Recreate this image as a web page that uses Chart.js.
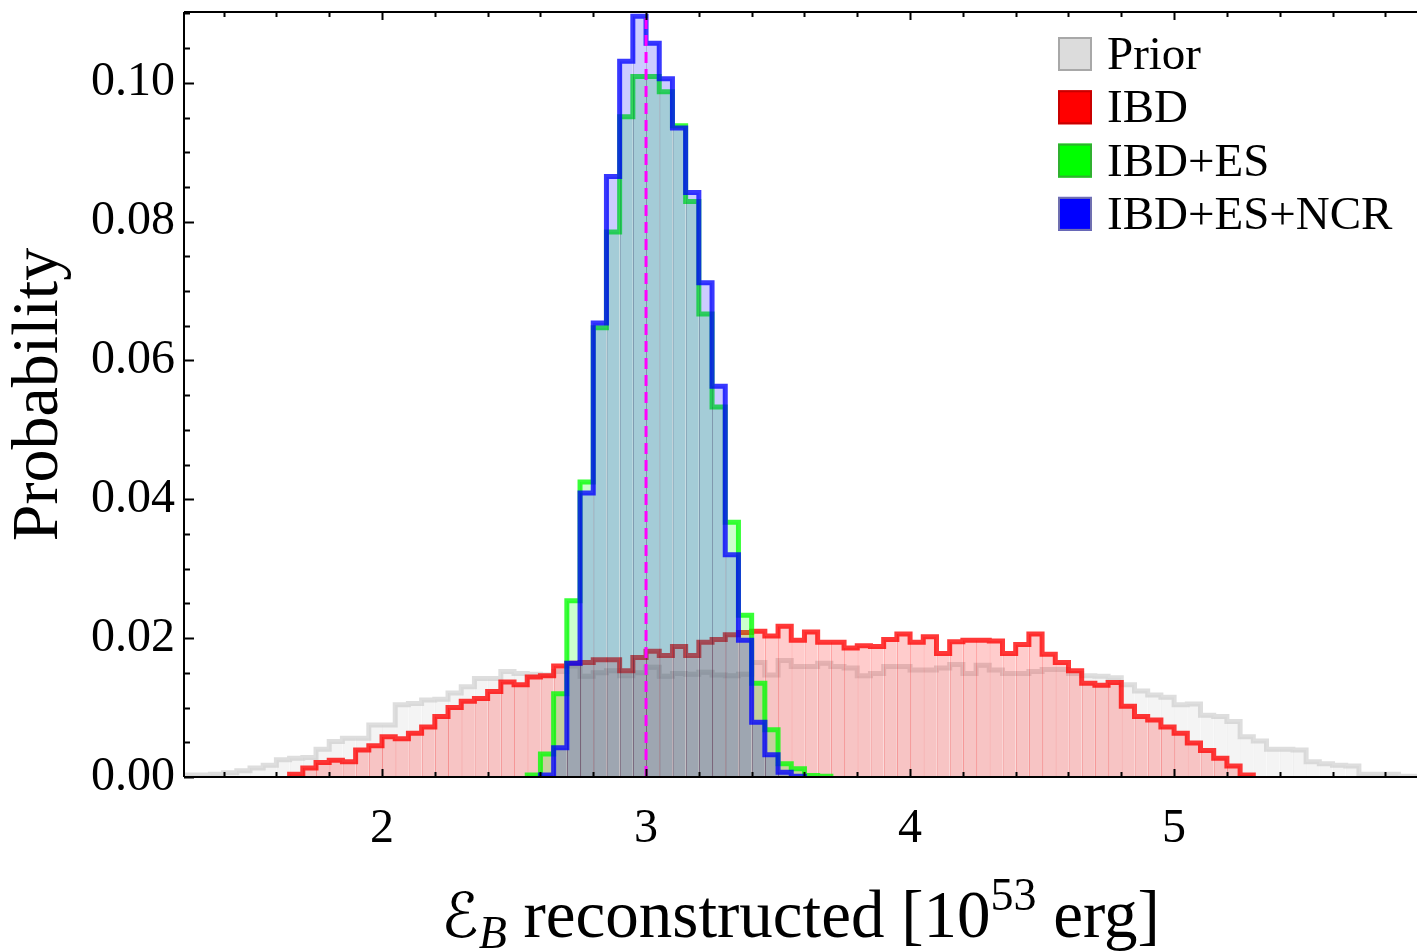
<!DOCTYPE html>
<html>
<head>
<meta charset="utf-8">
<script src="https://cdn.jsdelivr.net/npm/chart.js@4.4.1/dist/chart.umd.min.js"></script>
<style>
  body { margin: 0; background: #fff; }
  #wrap { width: 1417px; height: 951px; }
</style>
</head>
<body>
<div id="wrap"><canvas id="histcanvas"></canvas></div>
<script>
// bins are 0.05 wide, each series starts at its own left edge
var binWidth = 0.05;

var priorStart = 1.25;
var prior = [
  0.0003, 0.0003, 0.0004, 0.0006, 0.0009, 0.0013, 0.0017, 0.0025, 0.0027, 0.0028,
  0.0040, 0.0051, 0.0056, 0.0056, 0.0075, 0.0075, 0.0104, 0.0106, 0.0111, 0.0112,
  0.0121, 0.0130, 0.0142, 0.0142, 0.0152, 0.0149, 0.0148, 0.0147, 0.0152, 0.0160,
  0.0145, 0.0150, 0.0153, 0.0146, 0.0150, 0.0158, 0.0145, 0.0149, 0.0148, 0.0151,
  0.0147, 0.0146, 0.0148, 0.0165, 0.0147, 0.0168, 0.0159, 0.0159, 0.0164, 0.0159,
  0.0157, 0.0146, 0.0149, 0.0159, 0.0159, 0.0154, 0.0154, 0.0157, 0.0162, 0.0149,
  0.0161, 0.0154, 0.0149, 0.0149, 0.0152, 0.0155, 0.0155, 0.0149, 0.0146, 0.0145,
  0.0143, 0.0133, 0.0124, 0.0118, 0.0115, 0.0104, 0.0105, 0.0089, 0.0087, 0.0080,
  0.0058, 0.0052, 0.0040, 0.0040, 0.0039, 0.0022, 0.0019, 0.0017, 0.0016, 0.0004,
  0.0004, 0.0004, 0.0001, 0.0001
];

var ibdStart = 1.65;
var ibd = [
  0.0004, 0.0013, 0.0021, 0.0024, 0.0022, 0.0039, 0.0045, 0.0058, 0.0055, 0.0063,
  0.0072, 0.0087, 0.0100, 0.0109, 0.0113, 0.0123, 0.0137, 0.0133, 0.0144, 0.0146,
  0.0160, 0.0164, 0.0165, 0.0169, 0.0169, 0.0153, 0.0172, 0.0181, 0.0175, 0.0188,
  0.0175, 0.0194, 0.0198, 0.0205, 0.0208, 0.0210, 0.0203, 0.0217, 0.0197, 0.0209,
  0.0194, 0.0194, 0.0186, 0.0189, 0.0188, 0.0198, 0.0206, 0.0194, 0.0202, 0.0178,
  0.0195, 0.0197, 0.0197, 0.0196, 0.0178, 0.0191, 0.0206, 0.0177, 0.0165, 0.0153,
  0.0135, 0.0132, 0.0136, 0.0102, 0.0087, 0.0082, 0.0072, 0.0063, 0.0049, 0.0038,
  0.0027, 0.0016, 0.0003
];

var ibdEsStart = 2.55;
var ibdEs = [
  0.0003, 0.0033, 0.0120, 0.0254, 0.0425, 0.0647, 0.0785, 0.0951, 0.1009, 0.1009,
  0.0987, 0.0938, 0.0829, 0.0667, 0.0533, 0.0367, 0.0233, 0.0135, 0.0068, 0.0019,
  0.0012, 0.0002, 0.0001
];

var ibdEsNcrStart = 2.60;
var ibdEsNcr = [
  0.0003, 0.0042, 0.0164, 0.0409, 0.0654, 0.0865, 0.1031, 0.1096, 0.1057, 0.1006,
  0.0935, 0.0842, 0.0712, 0.0563, 0.0320, 0.0197, 0.0079, 0.0032, 0.0007, 0.0001
];

var trueValue = 3.0;
var xTicks = [2, 3, 4, 5];
var yTicks = [0, 0.02, 0.04, 0.06, 0.08, 0.10];
var seriesLabels = ['Prior', 'IBD', 'IBD+ES', 'IBD+ES+NCR'];

var serif = '"Liberation Serif", "Times New Roman", serif';
var xMin = 1.25, xMax = 5.92, yMax = 0.1102;

function edge(start, i) { return +(start + i * binWidth).toFixed(3); }
function center(start, i) { return +(start + (i + 0.5) * binWidth).toFixed(3); }

function barsOf(start, vals) {
  return vals.map(function(v, i) { return {x: center(start, i), y: v}; });
}
function outlineOf(start, vals) {
  var pts = [{x: edge(start, 0), y: 0}];
  for (var i = 0; i < vals.length; i++) {
    pts.push({x: edge(start, i), y: vals[i]});
    pts.push({x: edge(start, i + 1), y: vals[i]});
  }
  pts.push({x: edge(start, vals.length), y: 0});
  return pts;
}

var looks = [
  {fill: 'rgba(200,200,200,0.2)', edge: 'rgba(190,190,190,0.25)', line: 'rgba(195,195,195,0.55)'},
  {fill: 'rgba(255,0,0,0.2)', edge: 'rgba(255,0,0,0.4)', line: 'rgba(255,0,0,0.78)'},
  {fill: 'rgba(0,255,0,0.2)', edge: 'rgba(0,140,0,0.3)', line: 'rgba(0,255,0,0.78)'},
  {fill: 'rgba(0,0,255,0.2)', edge: 'rgba(0,0,150,0.35)', line: 'rgba(0,0,255,0.78)'}
];
var starts = [priorStart, ibdStart, ibdEsStart, ibdEsNcrStart];
var series = [prior, ibd, ibdEs, ibdEsNcr];

var datasets = [];
for (var s = 0; s < series.length; s++) {
  var depth = (series.length - s) * 2;
  datasets.push({
    type: 'bar',
    label: seriesLabels[s],
    data: barsOf(starts[s], series[s]),
    backgroundColor: looks[s].fill,
    borderColor: looks[s].edge,
    borderWidth: {left: 1, right: 0, top: 0, bottom: 0},
    borderSkipped: false,
    inflateAmount: 0,
    grouped: false,
    barPercentage: 1,
    categoryPercentage: 1,
    order: depth
  });
  datasets.push({
    type: 'line',
    label: seriesLabels[s] + ' outline',
    data: outlineOf(starts[s], series[s]),
    borderColor: looks[s].line,
    borderWidth: 5,
    fill: false,
    pointRadius: 0,
    tension: 0,
    order: depth - 1
  });
}
datasets.push({
  type: 'line',
  label: 'true value',
  data: [{x: trueValue, y: 0}, {x: trueValue, y: yMax}],
  borderColor: '#ff00ff',
  borderWidth: 3,
  borderDash: [11, 6],
  pointRadius: 0,
  fill: false,
  order: 0
});

var frameAndLegend = {
  id: 'frameAndLegend',
  afterDatasetsDraw: function(chart) {
    var ctx = chart.ctx, a = chart.chartArea;
    var xs = chart.scales.x, ys = chart.scales.y;
    ctx.save();
    ctx.strokeStyle = '#000';
    ctx.lineWidth = 2;
    ctx.beginPath();
    ctx.moveTo(a.left, a.top); ctx.lineTo(a.right, a.top);
    ctx.moveTo(a.left, a.bottom); ctx.lineTo(a.right, a.bottom);
    ctx.moveTo(a.left, a.top); ctx.lineTo(a.left, a.bottom);
    // x ticks, bottom and top, pointing in
    for (var k = 14; k <= 58; k += 2) {
      var v = k / 10;
      var major = xTicks.indexOf(v) >= 0;
      var px = Math.round(xs.getPixelForValue(v)) + 0.5;
      var len = major ? 8 : 5;
      ctx.moveTo(px, a.bottom); ctx.lineTo(px, a.bottom - len);
      ctx.moveTo(px, a.top); ctx.lineTo(px, a.top + len);
    }
    // y ticks
    for (var j = 0; j <= 22; j++) {
      var yv = j * 0.005;
      var py = Math.round(ys.getPixelForValue(yv)) + 0.5;
      var ylen = (j % 4 === 0) ? 10 : 6;
      ctx.moveTo(a.left, py); ctx.lineTo(a.left + ylen, py);
    }
    ctx.stroke();
    ctx.restore();
  },
  afterDraw: function(chart) {
    var ctx = chart.ctx, a = chart.chartArea;
    ctx.save();
    // legend
    var boxes = [['#dcdcdc', '#a8a8a8'], ['#ff0000', '#c80000'], ['#00ff00', '#30b030'], ['#0000ff', '#7070b0']];
    ctx.font = '47px ' + serif;
    ctx.textBaseline = 'alphabetic';
    ctx.textAlign = 'left';
    for (var i = 0; i < seriesLabels.length; i++) {
      var by = 37 + i * 53.3;
      ctx.fillStyle = boxes[i][0];
      ctx.fillRect(1058, by, 34, 34);
      ctx.strokeStyle = boxes[i][1];
      ctx.lineWidth = 2;
      ctx.strokeRect(1059, by + 1, 32, 32);
      ctx.fillStyle = '#000';
      ctx.fillText(seriesLabels[i], 1107, by + 32);
    }
    // x axis title with sub/superscript
    var parts = [
      {t: '\u2130', f: 'italic 62px "DejaVu Serif", "DejaVu Sans", serif', dy: 0},
      {t: 'B', f: 'italic 46px ' + serif, dy: 11},
      {t: ' reconstructed [10', f: '67px ' + serif, dy: 0},
      {t: '53', f: '46px ' + serif, dy: -27},
      {t: ' erg]', f: '67px ' + serif, dy: 0}
    ];
    var total = 0;
    parts.forEach(function(p) { ctx.font = p.f; p.w = ctx.measureText(p.t).width; total += p.w; });
    var x = (a.left + a.right) / 2 - total / 2;
    var base = 937;
    ctx.fillStyle = '#000';
    parts.forEach(function(p) {
      ctx.font = p.f;
      ctx.fillText(p.t, x, base + p.dy);
      x += p.w;
    });
    ctx.restore();
  }
};

var ctx = document.getElementById('histcanvas');
var histChart = new Chart(ctx, {
  type: 'line',
  data: {datasets: datasets},
  options: {
    responsive: true,
    maintainAspectRatio: false,
    animation: false,
    layout: {padding: {top: 12, right: 0, left: 0, bottom: 0}},
    plugins: {legend: {display: false}, tooltip: {enabled: false}},
    scales: {
      x: {
        type: 'linear',
        min: xMin,
        max: xMax,
        offset: false,
        grid: {display: false, drawTicks: false},
        border: {display: false},
        afterBuildTicks: function(scale) { scale.ticks = xTicks.map(function(v) { return {value: v}; }); },
        afterFit: function(scale) {
          scale.height = 174;
          scale.paddingLeft = 0; scale.paddingRight = 0;
        },
        ticks: {
          color: '#000',
          padding: 24,
          maxRotation: 0,
          font: {family: serif, size: 48},
          callback: function(v) { return String(v); }
        }
      },
      y: {
        type: 'linear',
        min: 0,
        max: yMax,
        grid: {display: false, drawTicks: false},
        border: {display: false},
        afterBuildTicks: function(scale) { scale.ticks = yTicks.map(function(v) { return {value: v}; }); },
        afterFit: function(scale) {
          scale.width = 184;
          scale.paddingTop = 0; scale.paddingBottom = 0;
        },
        ticks: {
          color: '#000',
          padding: 9,
          font: {family: serif, size: 48},
          callback: function(v) { return v.toFixed(2); }
        },
        title: {
          display: true,
          text: 'Probability',
          color: '#000',
          padding: {top: 0, bottom: 0},
          font: {family: serif, size: 66}
        }
      }
    }
  },
  plugins: [frameAndLegend]
});
</script>
</body>
</html>
